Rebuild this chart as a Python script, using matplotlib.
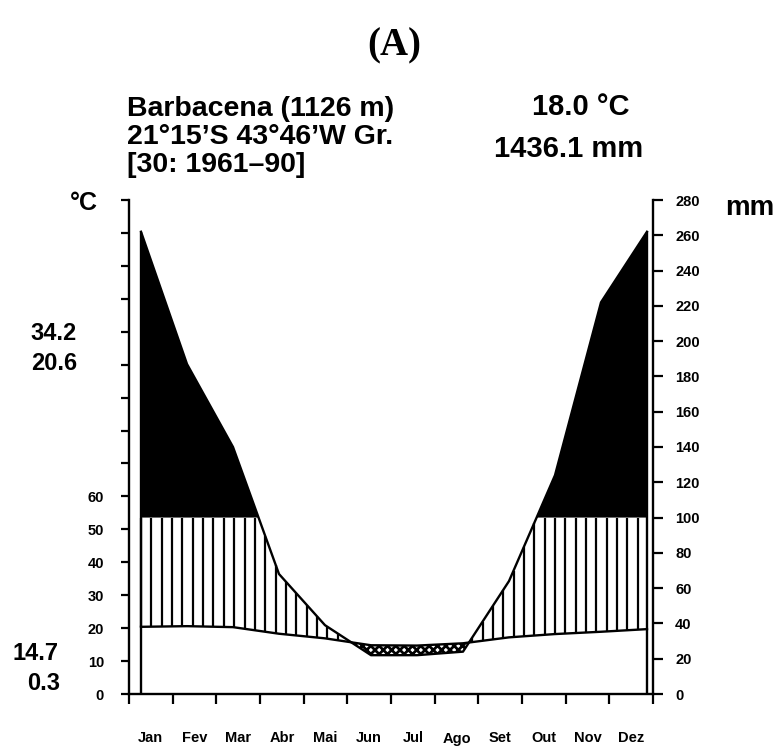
import numpy as np
import matplotlib
matplotlib.use("Agg")
import matplotlib.pyplot as plt

# monthly climate normals, Barbacena 1961-90
months = ["Jan", "Fev", "Mar", "Abr", "Mai", "Jun", "Jul", "Ago", "Set", "Out", "Nov", "Dez"]
temp_c = [20.4, 20.6, 20.3, 18.3, 16.9, 14.8, 14.7, 15.4, 17.2, 18.2, 18.9, 19.7]
precip_mm = [262, 187, 140, 68, 39, 22, 22, 24, 64, 124, 222, 262]

left_marks = ["34.2", "20.6", "14.7", "0.3"]
station = ["Barbacena (1126 m)", "21°15’S 43°46’W Gr.", "[30: 1961–90]"]
mean_temp = "18.0 °C"
total_precip = "1436.1 mm"

temp_ticks = np.arange(0, 151, 10)
temp_labels = [str(t) if t <= 60 else "" for t in temp_ticks]
precip_ticks = np.arange(0, 281, 20)

plt.rcParams["font.family"] = ["Liberation Sans", "DejaVu Sans"]
plt.rcParams["font.weight"] = "bold"
plt.rcParams["hatch.linewidth"] = 2.0
plt.rcParams["hatch.color"] = "black"

W, H = 783, 746
K = 280 / 150  # mm per degree on the shared vertical scale


def fx(px):
    return px / W


def fy(py):
    return 1 - py / H


fig = plt.figure(figsize=(W / 100, H / 100), dpi=100)
ax = fig.add_axes([fx(129), fy(694), (653 - 129) / W, (694 - 200) / H])

x = np.arange(len(months))
t_mm = np.array(temp_c) * K
p_mm = np.array(precip_mm, dtype=float)

xf = np.linspace(0, 11, 2201)
pf = np.interp(xf, x, p_mm)
tf = np.interp(xf, x, t_mm)

# very wet part above 100 mm in solid black
ax.fill_between(xf, 100, pf, where=pf > 100, interpolate=True, color="black", lw=0)

# humid period: vertical hatch between temperature and precipitation
xs = np.arange(0, 11.0001, 0.225)
ps = np.interp(xs, x, p_mm)
ts = np.interp(xs, x, t_mm)
wet = ps > ts
ax.vlines(xs[wet], ts[wet], np.minimum(ps[wet], 100), color="black", lw=1.6)

# dry period: dense crosshatch
ax.fill_between(xf, pf, tf, where=pf < tf, interpolate=True,
                facecolor="white", edgecolor="black", hatch="xxxx", lw=0)

ax.plot(x, t_mm, color="black", lw=1.7)
ax.plot(x, p_mm, color="black", lw=1.7)
ax.vlines([x[0], x[-1]], 0, [p_mm[0], p_mm[-1]], color="black", lw=1.7)

ax.set_xlim(-12 / 46, 512 / 46)
ax.set_ylim(0, 280)

xmin, xmax = ax.get_xlim()
edges = np.linspace(xmin, xmax, 13)
ax.set_xticks(edges)
ax.set_xticklabels([])
ax.set_xticks((edges[:-1] + edges[1:]) / 2, minor=True)
ax.set_xticklabels(months, minor=True, fontsize=10.5)
ax.tick_params(axis="x", which="minor", length=0, pad=27)
ax.tick_params(axis="x", which="major", length=7, width=1.6, direction="out")

ax.set_yticks(temp_ticks * K)
ax.set_yticklabels(temp_labels, fontsize=10.5)
ax.tick_params(axis="y", length=6, width=1.6, pad=12)

ax2 = ax.twinx()
ax2.set_ylim(0, 280)
ax2.set_yticks(precip_ticks)
ax2.set_yticklabels([str(p) for p in precip_ticks], fontsize=10.5)
ax2.tick_params(axis="y", length=7, width=1.6, pad=9)

for a in (ax, ax2):
    for s in a.spines.values():
        s.set_linewidth(1.7)
    a.spines["top"].set_visible(False)
ax.spines["right"].set_visible(False)
ax2.spines["left"].set_visible(False)
ax2.spines["bottom"].set_visible(False)

# titles and annotations
fig.text(fx(394), fy(46), "(A)", family="Liberation Serif", fontsize=28,
         fontweight="bold", ha="center", va="center")
for line, base in zip(station, [116, 144, 172]):
    fig.text(fx(127), fy(base), line, fontsize=20.5, ha="left", va="baseline")
fig.text(fx(630), fy(115), mean_temp, fontsize=21, ha="right", va="baseline")
fig.text(fx(643), fy(157), total_precip, fontsize=21, ha="right", va="baseline")

fig.text(fx(98), fy(210), "°C", fontsize=18, ha="right", va="baseline")
fig.text(fx(725), fy(215), "mm", fontsize=20, ha="left", va="baseline")

for txt, (xr, yb) in zip(left_marks, [(77, 340), (77, 370), (59, 660), (60, 690)]):
    fig.text(fx(xr), fy(yb), txt, fontsize=17, ha="right", va="baseline")

fig.savefig("out.png", dpi=100, facecolor="white")
